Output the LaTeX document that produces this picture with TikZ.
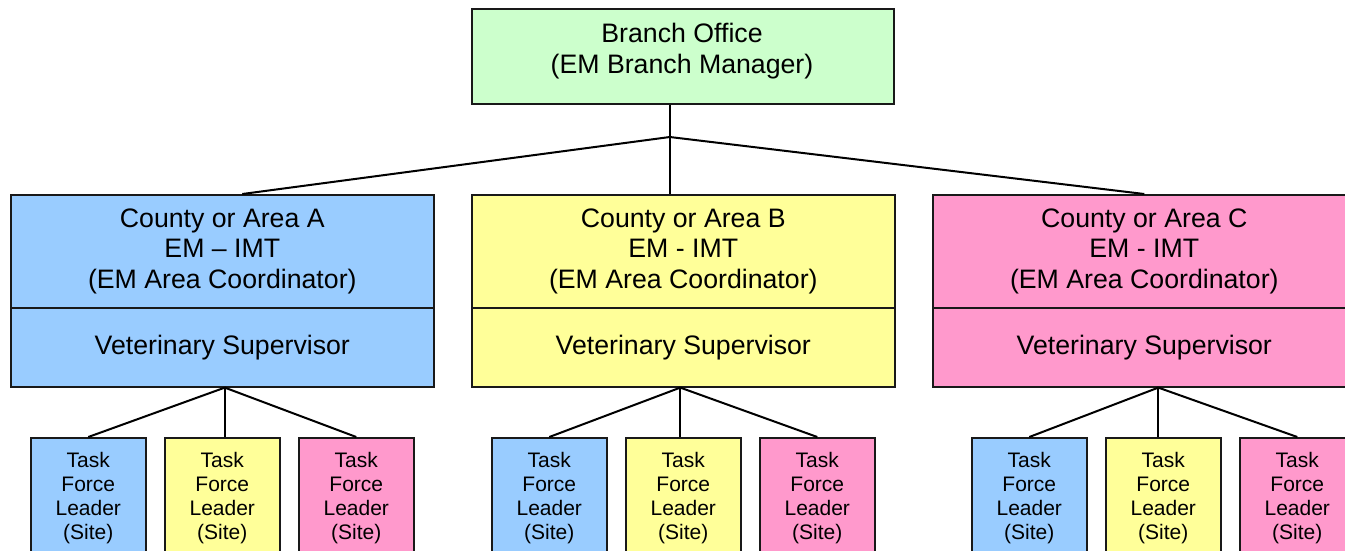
\documentclass[tikz,border=0pt]{standalone}
\usepackage{fontspec}
\setmainfont{Liberation Sans}
\definecolor{bgreen}{HTML}{CCFFCC}
\definecolor{bblue}{HTML}{99CCFF}
\definecolor{byellow}{HTML}{FFFF99}
\definecolor{bpink}{HTML}{FF99CC}
\tikzset{
  box/.style={draw=black!90, line width=1.6pt, inner sep=0pt, anchor=north west, align=center,
    font=\fontsize{26.7}{30.5}\selectfont},
  upbox/.style={box, minimum width=423pt, minimum height=113pt},
  lowbox/.style={box, minimum width=423pt, minimum height=79pt},
  taskbox/.style={box, minimum width=115pt, minimum height=120pt, font=\fontsize{21}{24}\selectfont},
  conn/.style={line width=2pt, black},
  txt/.style={align=center, inner sep=0pt, font=\fontsize{26.7}{30.5}\selectfont}
}
\begin{document}
\begin{tikzpicture}[x=1pt,y=-1pt]
\useasboundingbox (0,0) rectangle (1345,550);
\clip (0,0) rectangle (1345,550);
% top box
\node[box, fill=bgreen, minimum width=422pt, minimum height=95pt] (top) at (471,8) {};
\node[txt] (topt) at (682,51) {Branch Office\\(EM Branch Manager)};
% county boxes
\node[upbox, fill=bblue] (Aup) at (10,194) {County or Area A\\EM – IMT\\(EM Area Coordinator)};
\node[lowbox, fill=bblue] (Alow) at (10,307) {Veterinary Supervisor};
\node[upbox, fill=byellow] (Bup) at (471,194) {County or Area B\\EM - IMT\\(EM Area Coordinator)};
\node[lowbox, fill=byellow] (Blow) at (471,307) {Veterinary Supervisor};
\node[upbox, fill=bpink] (Cup) at (932,194) {County or Area C\\EM - IMT\\(EM Area Coordinator)};
\node[lowbox, fill=bpink] (Clow) at (932,307) {Veterinary Supervisor};
% task boxes
\foreach \g/\x in {A/30, B/491, C/971}{
  \node[taskbox, fill=bblue] (\g t1) at (\x,437) {Task\\Force\\Leader\\(Site)};
  \node[taskbox, fill=byellow] (\g t2) at (\x+134,437) {Task\\Force\\Leader\\(Site)};
  \node[taskbox, fill=bpink] (\g t3) at (\x+268,437) {Task\\Force\\Leader\\(Site)};
}
% connectors top
\coordinate (T) at ([xshift=-13pt]top.south);
\coordinate (J) at (T |- 0,137);
\draw[conn] (T) -- (T |- Bup.north);
\draw[conn] (J) -- ([xshift=20pt]Aup.north);
\draw[conn] (J) -- (Cup.north);
% connectors bottom
\coordinate (JA) at ([xshift=2.5pt]Alow.south);
\coordinate (JB) at ([xshift=-3pt]Blow.south);
\coordinate (JC) at ([xshift=14pt]Clow.south);
\foreach \g in {A,B,C}{
  \draw[conn] (J\g) -- (\g t1.north);
  \draw[conn] (J\g) -- (J\g |- \g t2.north);
  \draw[conn] (J\g) -- (\g t3.north);
}
\end{tikzpicture}
\end{document}
